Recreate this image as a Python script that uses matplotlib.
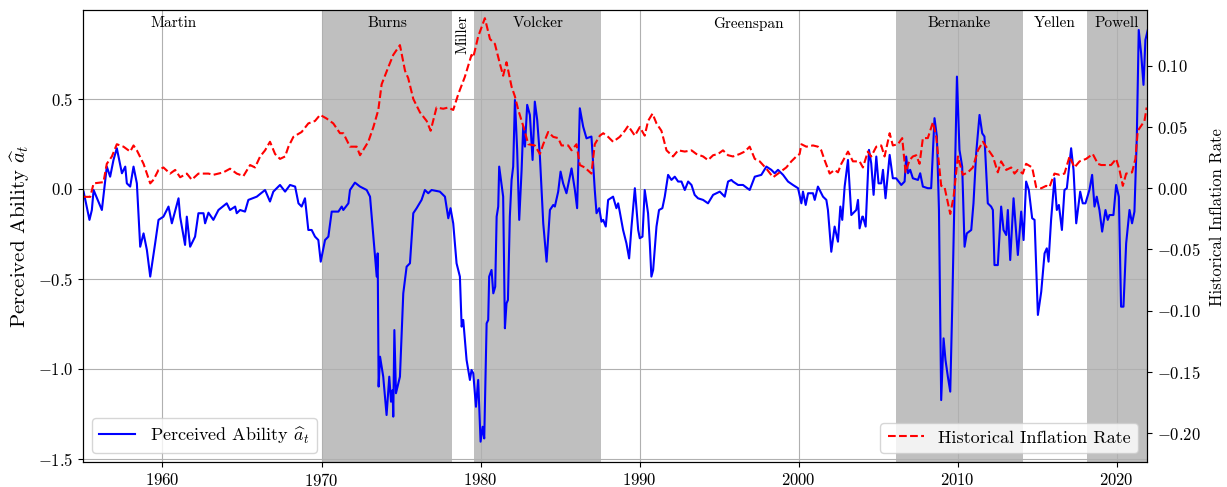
import matplotlib
matplotlib.use('Agg')
import matplotlib.pyplot as plt

plt.rcParams['font.family'] = ['cmr10', 'DejaVu Serif']
plt.rcParams['mathtext.fontset'] = 'cm'
plt.rcParams['axes.formatter.use_mathtext'] = True
plt.rcParams['axes.unicode_minus'] = False

# 感知能力 (蓝线)
ability_year = [
    1955.04, 1955.41, 1955.56, 1955.67, 1956.19, 1956.50, 1956.71, 1956.92, 1957.13, 1957.45,
    1957.66, 1957.76, 1957.97, 1958.18, 1958.39, 1958.60, 1958.81, 1959.02, 1959.23, 1959.54,
    1959.75, 1960.06, 1960.38, 1960.59, 1961.01, 1961.11, 1961.42, 1961.53, 1961.74, 1962.05,
    1962.26, 1962.58, 1962.68, 1962.89,
    1963.20, 1963.52, 1964.04, 1964.25, 1964.57, 1964.67, 1964.88, 1965.19, 1965.40, 1965.93,
    1966.45, 1966.76, 1966.97, 1967.39, 1967.71, 1968.02, 1968.34, 1968.55, 1968.75, 1968.96,
    1969.17, 1969.38, 1969.59, 1969.80, 1969.95, 1970.22, 1970.43, 1970.64, 1971.06, 1971.27,
    1971.37, 1971.69, 1971.79, 1972.10, 1972.42, 1972.84, 1973.05, 1973.26, 1973.47, 1973.53,
    1973.59, 1973.68, 1973.88, 1974.09, 1974.26, 1974.37, 1974.47, 1974.51, 1974.58, 1974.68,
    1974.93, 1975.14, 1975.35, 1975.56, 1975.77, 1975.98, 1976.29, 1976.50, 1976.71, 1976.92,
    1977.44, 1977.76, 1977.97, 1978.11, 1978.28, 1978.49, 1978.70, 1978.81, 1978.91, 1979.12,
    1979.33, 1979.43,
    1979.54, 1979.71, 1979.85, 1980.00, 1980.13, 1980.23, 1980.38, 1980.48, 1980.54, 1980.69,
    1980.80, 1980.92, 1981.01, 1981.11, 1981.17, 1981.42, 1981.53, 1981.63, 1981.72, 1981.84,
    1981.95, 1982.05, 1982.16, 1982.30, 1982.43, 1982.58, 1982.68, 1982.79, 1982.93, 1983.10,
    1983.27, 1983.41, 1983.56, 1983.73, 1983.94, 1984.15, 1984.36, 1984.57, 1984.67, 1984.88,
    1985.03, 1985.19, 1985.40, 1985.72, 1985.93, 1986.07, 1986.24, 1986.45, 1986.66, 1986.97,
    1987.18, 1987.29, 1987.46, 1987.60,
    1987.71, 1987.87, 1988.02, 1988.33, 1988.54, 1988.65, 1988.75, 1988.96, 1989.17, 1989.34,
    1989.49, 1989.70, 1989.91, 1990.01, 1990.18, 1990.32, 1990.53, 1990.64, 1990.74, 1990.85,
    1991.06, 1991.22, 1991.43, 1991.58, 1991.79, 1992.00, 1992.21, 1992.42, 1992.63, 1992.84,
    1993.05, 1993.26, 1993.46, 1993.67, 1993.99, 1994.30, 1994.62, 1995.04, 1995.35, 1995.56,
    1995.77,
    1995.87, 1996.19, 1996.50, 1996.92, 1997.24, 1997.65, 1997.97, 1998.28, 1998.49, 1998.70,
    1999.02, 1999.33, 1999.64, 1999.96, 2000.17, 2000.27, 2000.44, 2000.59, 2000.90, 2001.01,
    2001.21, 2001.53, 2001.74, 2001.84, 2002.05, 2002.26, 2002.47, 2002.62, 2002.74, 2002.89,
    2003.10, 2003.31, 2003.62, 2003.73, 2003.83, 2004.00,
    2004.04, 2004.21, 2004.42, 2004.56, 2004.71, 2004.88, 2005.02, 2005.19, 2005.30, 2005.46,
    2005.72, 2005.92, 2006.13, 2006.45, 2006.66, 2006.76, 2006.87, 2007.01, 2007.18, 2007.50,
    2007.64, 2007.81, 2008.12, 2008.33, 2008.54, 2008.69, 2008.82, 2008.96, 2009.11, 2009.23,
    2009.38, 2009.53, 2009.65, 2009.80, 2009.95, 2010.11, 2010.28, 2010.43, 2010.57, 2010.85,
    2010.99, 2011.16, 2011.37, 2011.54, 2011.68, 2011.89, 2012.10,
    2012.21, 2012.31, 2012.52, 2012.73, 2012.88, 2013.05, 2013.15, 2013.30, 2013.51, 2013.78,
    2013.99, 2014.14, 2014.30, 2014.47, 2014.68, 2014.83, 2015.04, 2015.25, 2015.46, 2015.60,
    2015.71, 2015.87, 2016.08, 2016.23, 2016.36, 2016.55, 2016.71, 2016.86, 2017.13, 2017.28,
    2017.45, 2017.70, 2017.86, 2018.03, 2018.28, 2018.45, 2018.60, 2018.74, 2018.91, 2019.08,
    2019.29, 2019.43, 2019.54, 2019.79, 2019.96, 2020.13, 2020.27, 2020.42, 2020.59, 2020.80,
    2020.96, 2021.11, 2021.26, 2021.38, 2021.53, 2021.68, 2021.80, 2021.95,
]
ability = [
    -0.015, -0.172, -0.117, -0.006, -0.117, 0.124, 0.068, 0.161, 0.226, 0.087,
    0.124, 0.031, 0.013, 0.124, 0.031, -0.321, -0.247, -0.339, -0.487, -0.302,
    -0.172, -0.154, -0.098, -0.191, -0.052, -0.154, -0.311, -0.154, -0.321, -0.265,
    -0.135, -0.135, -0.191, -0.132,
    -0.172, -0.117, -0.080, -0.117, -0.098, -0.135, -0.117, -0.126, -0.061, -0.043,
    -0.006, -0.070, -0.015, 0.022, -0.015, 0.022, 0.013, -0.080, -0.098, -0.052,
    -0.228, -0.228, -0.265, -0.284, -0.404, -0.284, -0.265, -0.126, -0.126, -0.098,
    -0.117, -0.080, -0.006, 0.035, 0.013, -0.006, -0.043, -0.265, -0.487, -0.358,
    -1.098, -0.932, -1.043, -1.256, -1.043, -1.182, -1.117, -1.265, -0.784, -1.135,
    -1.043, -0.580, -0.432, -0.413, -0.135, -0.107, -0.061, -0.006, -0.024, -0.006,
    -0.015, -0.043, -0.163, -0.107, -0.191, -0.413, -0.487, -0.765, -0.728, -0.950,
    -1.061, -1.006,
    -1.024, -1.210, -1.061, -1.404, -1.321, -1.386, -0.747, -0.728, -0.487, -0.450,
    -0.580, -0.543, -0.154, -0.098, 0.124, -0.043, -0.774, -0.636, -0.617, -0.154,
    0.050, 0.124, 0.494, 0.217, -0.172, 0.106, 0.346, 0.235, 0.467, 0.411,
    0.161, 0.485, 0.383, 0.180, -0.191, -0.404, -0.117, -0.089, -0.098, -0.015,
    0.096, 0.031, -0.024, 0.114, -0.006, -0.107, 0.448, 0.346, 0.281, 0.291,
    -0.006, -0.135, -0.107, -0.182,
    -0.172, -0.209, -0.061, -0.043, -0.107, -0.080, -0.126, -0.228, -0.302, -0.386,
    -0.209, 0.004, -0.228, -0.274, -0.265, -0.006, -0.135, -0.302, -0.487, -0.450,
    -0.209, -0.117, -0.107, -0.043, 0.078, 0.050, 0.068, 0.041, 0.041, -0.006,
    0.041, 0.022, -0.033, -0.052, -0.061, -0.080, -0.033, -0.015, -0.043, 0.041,
    0.050,
    0.041, 0.022, 0.022, -0.006, 0.068, 0.078, 0.124, 0.106, 0.087, 0.106,
    0.078, 0.041, 0.022, 0.004, -0.080, -0.015, -0.089, -0.024, -0.024, -0.061,
    0.013, -0.043, -0.061, -0.117, -0.349, -0.209, -0.293, -0.098, -0.172, 0.013,
    0.161, -0.145, -0.117, -0.061, -0.219, -0.154,
    -0.154, -0.209, 0.217, 0.143, -0.033, 0.180, 0.031, 0.031, 0.106, -0.052,
    0.189, 0.059, 0.059, 0.022, 0.041, 0.180, 0.087, 0.106, 0.059, 0.050,
    0.087, 0.013, 0.004, 0.004, 0.393, 0.291, -0.117, -1.173, -0.830, -0.950,
    -1.043, -1.126, -0.673, -0.024, 0.624, 0.217, 0.124, -0.321, -0.247, -0.228,
    -0.080, 0.198, 0.411, 0.309, 0.291, -0.080, -0.098,
    -0.117, -0.423, -0.423, -0.098, -0.228, -0.256, -0.117, -0.395, -0.052, -0.367,
    -0.126, -0.284, 0.041, -0.006, -0.163, -0.172, -0.700, -0.571, -0.358, -0.330,
    -0.404, -0.172, 0.059, -0.117, -0.089, -0.228, -0.006, 0.004, 0.226, 0.106,
    -0.191, -0.015, -0.080, -0.080, -0.006, 0.078, -0.098, -0.043, -0.117, -0.237,
    -0.117, -0.172, -0.145, -0.145, 0.022, -0.043, -0.654, -0.654, -0.302, -0.117,
    -0.191, -0.126, 0.291, 0.883, 0.754, 0.578, 0.828, 0.883,
]

# 历史通胀率 (红色虚线)
inflation_year = [
    1955.04, 1955.46, 1955.67, 1956.29, 1956.50, 1956.82, 1957.13, 1957.55, 1957.97, 1958.18,
    1958.39, 1958.81, 1959.23, 1959.44, 1959.75, 1960.06, 1960.48, 1960.80, 1961.11, 1961.53,
    1961.84, 1962.26, 1962.89,
    1963.20, 1963.83, 1964.25, 1964.67, 1965.09, 1965.51, 1965.82, 1966.14, 1966.45, 1966.76,
    1967.08, 1967.39, 1967.71, 1967.92, 1968.23, 1968.75, 1969.17, 1969.59, 1969.91, 1970.32,
    1970.74, 1971.16,
    1971.37, 1971.79, 1972.21, 1972.42, 1972.94, 1973.26, 1973.57, 1973.78, 1974.20, 1974.51,
    1974.93, 1975.25, 1975.45, 1975.77, 1976.19, 1976.61, 1976.86, 1977.23, 1977.65, 1977.97,
    1978.28, 1978.60, 1979.01, 1979.43,
    1979.54, 1979.85, 1980.27, 1980.59, 1980.90, 1981.21, 1981.42, 1981.63, 1981.95, 1982.16,
    1982.37, 1982.68, 1983.00, 1983.41, 1983.73, 1983.94, 1984.25, 1984.57, 1984.88, 1985.09,
    1985.51, 1985.72, 1986.03, 1986.24, 1986.55, 1986.97, 1987.18, 1987.50,
    1987.71, 1988.02, 1988.33, 1988.75, 1989.07, 1989.28, 1989.70, 1990.01, 1990.32, 1990.53,
    1990.81, 1991.06, 1991.37, 1991.69, 1992.10, 1992.42, 1992.84, 1993.26, 1993.57, 1993.99,
    1994.30, 1994.62, 1994.93, 1995.24, 1995.56,
    1995.87, 1996.29, 1996.61, 1996.92, 1997.24, 1997.55, 1997.97, 1998.39, 1998.81, 1999.22,
    1999.54, 1999.85, 2000.06, 2000.17, 2000.48, 2000.90, 2001.21, 2001.42, 2001.63, 2001.95,
    2002.26, 2002.47, 2002.68, 2003.10, 2003.41, 2003.83,
    2004.04, 2004.35, 2004.56, 2004.88, 2005.19, 2005.40, 2005.72, 2005.92, 2006.24, 2006.51,
    2006.72, 2006.97, 2007.18, 2007.39, 2007.60, 2007.81, 2008.12, 2008.44, 2008.65, 2008.96,
    2009.17, 2009.53, 2009.74, 2010.01, 2010.32, 2010.64, 2010.95, 2011.27, 2011.58, 2012.00,
    2012.21, 2012.52, 2012.73, 2013.05, 2013.36, 2013.57, 2013.78, 2014.09, 2014.30, 2014.68,
    2014.93, 2015.25, 2015.56, 2015.77, 2016.08, 2016.40, 2016.71, 2017.03, 2017.34, 2017.66,
    2018.07, 2018.49, 2018.81, 2019.02, 2019.33, 2019.64, 2019.96, 2020.17, 2020.38, 2020.59,
    2020.96, 2021.17, 2021.32, 2021.53, 2021.74, 2021.88,
]
inflation = [
    -0.007, -0.007, 0.004, 0.005, 0.020, 0.026, 0.036, 0.034, 0.030, 0.035,
    0.031, 0.020, 0.004, 0.007, 0.015, 0.017, 0.012, 0.015, 0.009, 0.012,
    0.007, 0.012, 0.012,
    0.011, 0.013, 0.016, 0.012, 0.010, 0.019, 0.017, 0.026, 0.031, 0.038,
    0.028, 0.024, 0.026, 0.034, 0.042, 0.046, 0.053, 0.055, 0.060, 0.057,
    0.053, 0.045,
    0.045, 0.034, 0.034, 0.027, 0.038, 0.050, 0.064, 0.085, 0.099, 0.109,
    0.117, 0.096, 0.090, 0.073, 0.062, 0.055, 0.047, 0.066, 0.065, 0.066,
    0.064, 0.077, 0.091, 0.109,
    0.107, 0.124, 0.139, 0.122, 0.118, 0.102, 0.092, 0.103, 0.083, 0.075,
    0.064, 0.051, 0.036, 0.035, 0.028, 0.036, 0.046, 0.042, 0.041, 0.035,
    0.035, 0.031, 0.036, 0.019, 0.017, 0.012, 0.036, 0.043,
    0.045, 0.042, 0.038, 0.042, 0.047, 0.051, 0.043, 0.050, 0.043, 0.055,
    0.061, 0.053, 0.047, 0.031, 0.026, 0.031, 0.030, 0.031, 0.028, 0.026,
    0.023, 0.027, 0.028, 0.031, 0.027,
    0.026, 0.028, 0.030, 0.034, 0.024, 0.022, 0.016, 0.009, 0.013, 0.017,
    0.022, 0.026, 0.028, 0.036, 0.034, 0.035, 0.034, 0.031, 0.023, 0.012,
    0.015, 0.013, 0.020, 0.030, 0.022, 0.022,
    0.017, 0.030, 0.026, 0.034, 0.035, 0.026, 0.045, 0.035, 0.036, 0.041,
    0.013, 0.023, 0.026, 0.027, 0.020, 0.041, 0.041, 0.054, 0.042, 0.002,
    0.001, -0.021, -0.007, 0.026, 0.011, 0.013, 0.017, 0.031, 0.038, 0.030,
    0.026, 0.013, 0.022, 0.015, 0.017, 0.012, 0.015, 0.012, 0.020, 0.017,
    0.001, 0.000, 0.002, 0.001, 0.012, 0.011, 0.012, 0.026, 0.017, 0.022,
    0.024, 0.028, 0.020, 0.019, 0.019, 0.019, 0.024, 0.015, 0.002, 0.012,
    0.013, 0.024, 0.047, 0.051, 0.055, 0.066,
]

# 美联储主席任期
chairs = ['Martin', 'Burns', 'Miller', 'Volcker', 'Greenspan', 'Bernanke', 'Yellen', 'Powell']
terms = [(1951.25, 1970.1), (1970.1, 1978.2), (1978.2, 1979.6), (1979.6, 1987.6),
         (1987.6, 2006.1), (2006.1, 2014.1), (2014.1, 2018.1), (2018.1, 2021.9)]
shaded = [False, True, False, True, False, True, False, True]

fig = plt.figure(figsize=(12.27, 4.87), dpi=100)
ax = fig.add_subplot(1, 1, 1)
fig.subplots_adjust(left=0.0676, right=0.9348, top=0.9795, bottom=0.0513)

for name, (start, end), s in zip(chairs, terms, shaded):
    if s:
        ax.axvspan(start, end, color='gray', alpha=0.5, lw=0)
    mid = (start + end) / 2
    if name == 'Miller':
        ax.text(mid, 0.99, name, rotation=90, ha='center', va='top', fontsize=11,
                transform=ax.get_xaxis_transform())
    else:
        ax.text(mid, 0.985, name, ha='center', va='top', fontsize=11,
                transform=ax.get_xaxis_transform())

ax.plot(ability_year, ability, color='blue', lw=1.5, label=r'Perceived Ability $\widehat{a}_t$')
ax.set_xlim(1955.0, 2021.9)
ax.set_ylim(-1.517, 0.994)
ax.set_ylabel(r'Perceived Ability $\widehat{a}_t$', fontsize=15)
ax.grid(True)
ax.tick_params(labelsize=12)
ax.legend(loc='lower left', fontsize=13)

ax2 = ax.twinx()
ax2.plot(inflation_year, inflation, color='red', ls='--', lw=1.5, label='Historical Inflation Rate')
ax2.set_ylim(-0.2237, 0.1457)
ax2.set_ylabel('Historical Inflation Rate', fontsize=12)
ax2.yaxis.set_label_coords(1.059, 0.542)
ax2.tick_params(labelsize=12)
ax2.legend(loc='lower right', fontsize=13)

plt.savefig('out.png', dpi=100)
